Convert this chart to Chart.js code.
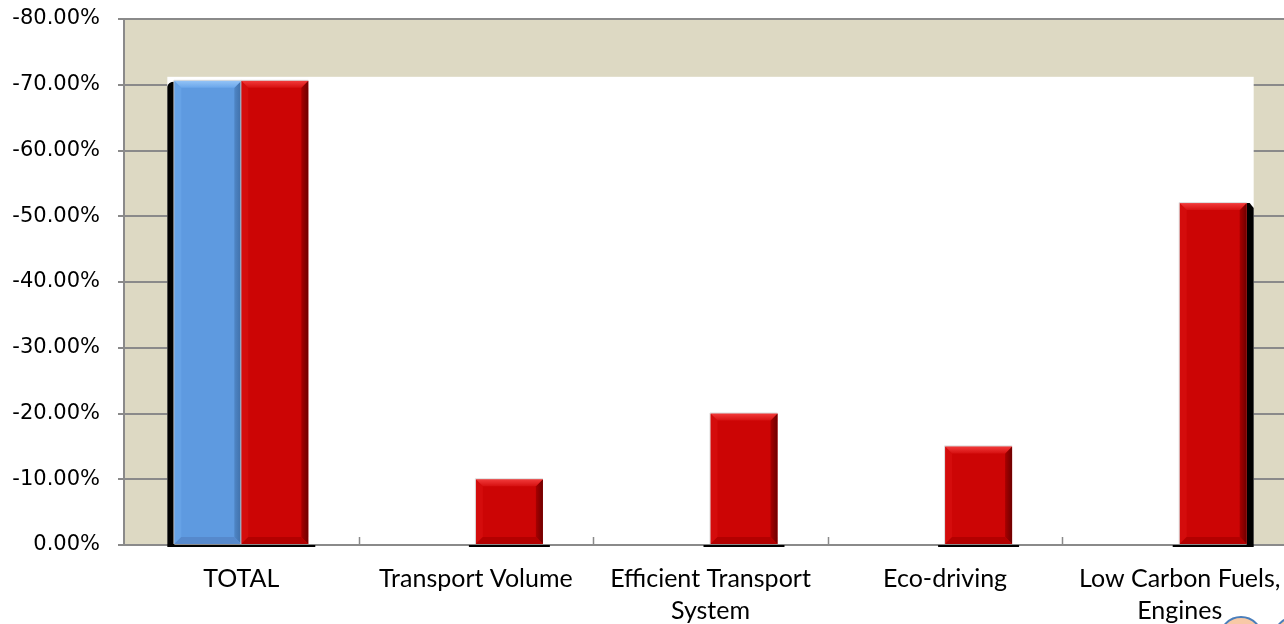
<!DOCTYPE html>
<html>
<head>
<meta charset="utf-8">
<script src="https://cdn.jsdelivr.net/npm/chart.js@4/dist/chart.umd.min.js"></script>
<style>
  html, body { margin: 0; padding: 0; background: #fff; }
  #wrap { width: 1284px; height: 624px; overflow: hidden; position: relative; }
  #chart { display: block; }
</style>
</head>
<body>
<div id="wrap"><canvas id="chart" width="1310" height="624"></canvas></div>
<script>
// Categories and reduction shares (percent)
const categories = [
    'TOTAL',
    'Transport Volume',
    ['Efficient Transport', 'System'],
    'Eco-driving',
    ['Low Carbon Fuels,', 'Engines']
];
const totalSeries = [-70.6, null, null, null, null];
const measureSeries = [-70.6, -10, -20, -15, -52];
const yTicks = { min: -80, max: 0, step: 10 };

const TAN = '#ddd9c3';
const GRID = '#8a8a8a';

// fills: [main, top bevel light, top bevel inner, left bevel, right bevel, right edge, bottom bevel]
const palette = {
    blue: ['#5e9ae0', '#93c3f6', '#6aa6ea', '#66a2e6', '#4f86c6', '#3f6fa8', '#5689cc'],
    red:  ['#cc0505', '#f23b3b', '#d61010', '#d40c0c', '#a80000', '#6e0000', '#b30000']
};

// background: tan plot area
const backgroundPlugin = {
    id: 'background',
    beforeDraw(chart) {
        const { ctx, chartArea } = chart;
        ctx.save();
        ctx.fillStyle = '#ffffff';
        ctx.fillRect(0, 0, chart.width, chart.height);
        ctx.fillStyle = TAN;
        ctx.fillRect(chartArea.left, chartArea.top, chartArea.right - chartArea.left, chartArea.bottom - chartArea.top);
        ctx.restore();
    },
    beforeDatasetsDraw(chart) {
        const { ctx, chartArea } = chart;
        const first = chart.getDatasetMeta(0).data[0];
        const lastMeta = chart.getDatasetMeta(1).data;
        const last = lastMeta[lastMeta.length - 1];
        const fl = first.x - first.width / 2;
        const lr = last.x + last.width / 2;
        let top = Infinity;
        chart.data.datasets.forEach((ds, i) => {
            chart.getDatasetMeta(i).data.forEach((el, j) => {
                if (ds.data[j] != null) top = Math.min(top, el.y);
            });
        });
        ctx.save();
        // white wall behind the bars
        ctx.fillStyle = '#ffffff';
        ctx.fillRect(fl - 7, top - 4, (lr + 7) - (fl - 7), chartArea.bottom - 1 - (top - 4));

        // shadow strips at the outer bars
        ctx.fillStyle = '#000000';
        ctx.beginPath();
        ctx.moveTo(fl - 7, chartArea.bottom);
        ctx.lineTo(fl - 7, first.y + 6);
        ctx.quadraticCurveTo(fl - 6, first.y + 1, fl, first.y + 1);
        ctx.lineTo(fl, chartArea.bottom);
        ctx.closePath();
        ctx.fill();
        ctx.beginPath();
        ctx.moveTo(lr, last.y);
        ctx.lineTo(lr + 3, last.y);
        ctx.lineTo(lr + 7, last.y + 5);
        ctx.lineTo(lr + 7, chartArea.bottom);
        ctx.lineTo(lr, chartArea.bottom);
        ctx.closePath();
        ctx.fill();

        // inside tick marks between categories
        const xs = chart.scales.x;
        ctx.strokeStyle = GRID;
        ctx.lineWidth = 1.5;
        for (let i = 1; i < categories.length; i++) {
            const x = Math.round((xs.getPixelForValue(i - 1) + xs.getPixelForValue(i)) / 2) + 0.5;
            ctx.beginPath();
            ctx.moveTo(x, chartArea.bottom);
            ctx.lineTo(x, chartArea.bottom - 8);
            ctx.stroke();
        }
        ctx.restore();
    },
    afterDatasetsDraw(chart) {
        const { ctx } = chart;
        ctx.save();
        chart.data.datasets.forEach((ds, i) => {
            const p = palette[ds.paletteKey];
            chart.getDatasetMeta(i).data.forEach((el, j) => {
                if (ds.data[j] == null) return;
                const L = el.x - el.width / 2, R = el.x + el.width / 2;
                const T = el.y, B = el.base;
                const b = 7;

                // shadow line under the bar
                ctx.fillStyle = '#000000';
                ctx.fillRect(L - 7, B + 1, R - L + 14, 2);

                // left bevel
                ctx.fillStyle = p[3];
                poly(ctx, [[L, T], [L + b, T + b], [L + b, B - b], [L, B]]);
                // right bevel
                const rg = ctx.createLinearGradient(R - b, 0, R, 0);
                rg.addColorStop(0, p[4]);
                rg.addColorStop(1, p[5]);
                ctx.fillStyle = rg;
                poly(ctx, [[R, T], [R, B], [R - b, B - b], [R - b, T + b]]);
                // bottom bevel
                ctx.fillStyle = p[6];
                poly(ctx, [[L, B], [L + b, B - b], [R - b, B - b], [R, B]]);
                // top bevel
                const tg = ctx.createLinearGradient(0, T, 0, T + b);
                tg.addColorStop(0, p[1]);
                tg.addColorStop(1, p[2]);
                ctx.fillStyle = tg;
                poly(ctx, [[L, T], [R, T], [R - b, T + b], [L + b, T + b]]);

                // thin light outline on left and top
                ctx.strokeStyle = 'rgba(210,210,210,0.8)';
                ctx.lineWidth = 1;
                ctx.beginPath();
                ctx.moveTo(L - 0.5, B);
                ctx.lineTo(L - 0.5, T - 0.5);
                ctx.lineTo(R, T - 0.5);
                ctx.stroke();
            });
        });
        ctx.restore();
    },
    afterDraw(chart) {
        // logo circles in the corner
        const { ctx } = chart;
        ctx.save();
        ctx.fillStyle = '#f8c9a6';
        ctx.strokeStyle = '#4a7ebb';
        ctx.lineWidth = 2;
        [[1241, 638], [1295, 638]].forEach(([cx, cy]) => {
            ctx.beginPath();
            ctx.arc(cx, cy, 21, 0, Math.PI * 2);
            ctx.fill();
            ctx.stroke();
        });
        ctx.restore();
    }
};

function poly(ctx, pts) {
    ctx.beginPath();
    ctx.moveTo(pts[0][0], pts[0][1]);
    for (let k = 1; k < pts.length; k++) ctx.lineTo(pts[k][0], pts[k][1]);
    ctx.closePath();
    ctx.fill();
}

const chart = new Chart(document.getElementById('chart').getContext('2d'), {
    type: 'bar',
    data: {
        labels: categories,
        datasets: [
            {
                label: 'Total',
                data: totalSeries,
                paletteKey: 'blue',
                backgroundColor: palette.blue[0],
                borderWidth: 0
            },
            {
                label: 'Measures',
                data: measureSeries,
                paletteKey: 'red',
                backgroundColor: palette.red[0],
                borderWidth: 0
            }
        ]
    },
    options: {
        responsive: false,
        animation: false,
        devicePixelRatio: 1,
        categoryPercentage: 0.571,
        barPercentage: 1,
        layout: { padding: { top: 19, right: 13, left: 0, bottom: 0 } },
        plugins: {
            legend: { display: false },
            tooltip: { enabled: false }
        },
        scales: {
            y: {
                reverse: true,
                min: yTicks.min,
                max: yTicks.max,
                afterFit(scale) {
                    scale.width = 124;
                    // the tick padding shouldn't push the plot area down
                    scale.paddingTop = 12;
                    scale.paddingBottom = 12;
                },
                ticks: {
                    stepSize: yTicks.step,
                    padding: 18,
                    color: '#000000',
                    font: { family: 'DejaVu Sans', size: 21 },
                    callback: v => v.toFixed(2) + '%'
                },
                grid: { color: GRID, lineWidth: 2, tickLength: 6 },
                border: { color: GRID, width: 2 }
            },
            x: {
                afterFit(scale) { scale.height = 79; },
                ticks: {
                    autoSkip: false,
                    maxRotation: 0,
                    padding: 18,
                    color: '#000000',
                    font: { family: 'Lato', size: 25, lineHeight: 1.28 }
                },
                grid: { display: false, drawTicks: false },
                border: { color: GRID, width: 2 }
            }
        }
    },
    plugins: [backgroundPlugin]
});
</script>
</body>
</html>
